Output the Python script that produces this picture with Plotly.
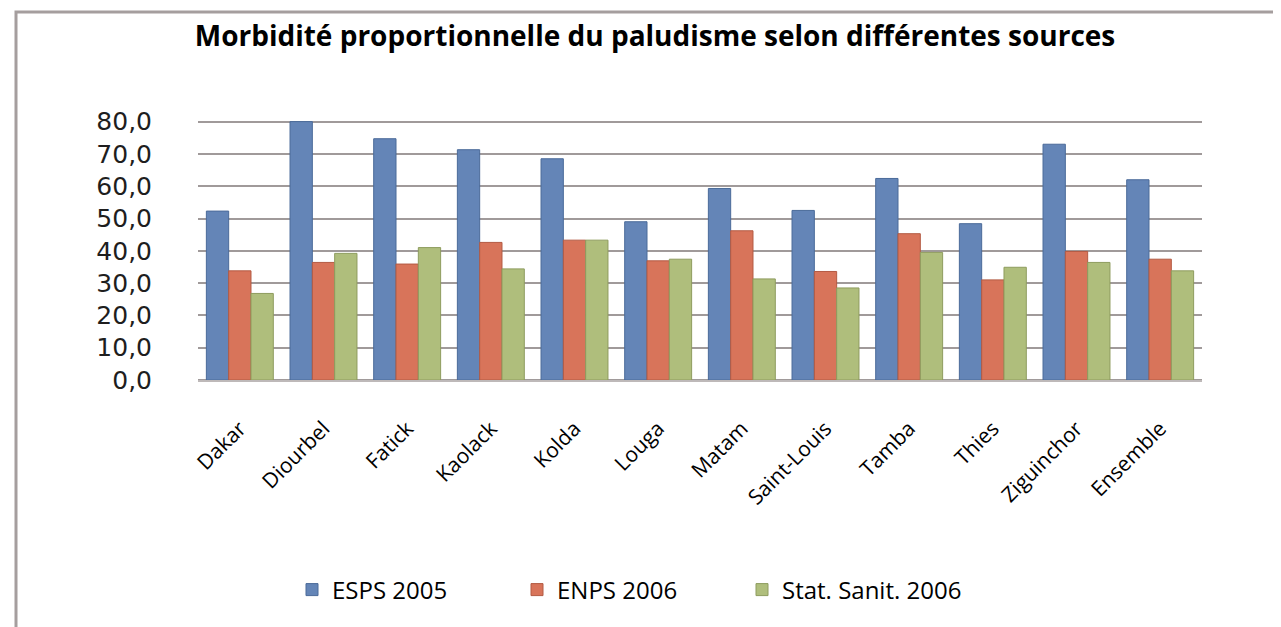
import plotly.graph_objects as go

# Data
regions = ['Dakar', 'Diourbel', 'Fatick', 'Kaolack', 'Kolda', 'Louga', 'Matam',
           'Saint-Louis', 'Tamba', 'Thies', 'Ziguinchor', 'Ensemble']
esps_2005 = [52.3, 80.0, 74.7, 71.3, 68.5, 49.0, 59.3, 52.5, 62.4, 48.4, 73.0, 62.0]
enps_2006 = [33.8, 36.4, 35.9, 42.6, 43.3, 36.9, 46.2, 33.6, 45.3, 31.0, 39.8, 37.4]
stat_sanit_2006 = [26.8, 39.2, 41.0, 34.4, 43.3, 37.4, 31.3, 28.5, 39.5, 34.9, 36.4, 33.8]

y_ticks = [0, 10, 20, 30, 40, 50, 60, 70, 80]
y_tick_text = ['0,0', '10,0', '20,0', '30,0', '40,0', '50,0', '60,0', '70,0', '80,0']

series = [
    ('ESPS 2005', esps_2005, '#6485B7', '#4A6A99'),
    ('ENPS 2006', enps_2006, '#D8745A', '#B35A43'),
    ('Stat. Sanit. 2006', stat_sanit_2006, '#AFBE7C', '#8E9C5E'),
]

W, H = 1281, 627
OFF = 8  # page body margin offsets the figure
ML, MR, MT, MB = 198 - OFF, 79 + OFF, 120 - OFF, 247 + OFF

fig = go.Figure()
for name, vals, color, edge in series:
    fig.add_trace(go.Bar(
        x=regions, y=vals, name=name,
        marker=dict(color=color, line=dict(color=edge, width=1)),
    ))

grid_col = 'rgb(160, 154, 154)'

fig.update_xaxes(
    tickangle=-45,
    tickfont=dict(family='Open Sans, sans-serif', size=21, color='black'),
    ticklabelstandoff=26,
    showgrid=False,
    showline=True, linecolor='rgb(190, 185, 185)', linewidth=2,
)
fig.update_yaxes(
    range=[0, 80.5],
    tickvals=y_ticks, ticktext=y_tick_text,
    tickfont=dict(family='DejaVu Sans, sans-serif', size=25, color='rgb(30,30,30)'),
    ticklabelstandoff=45,
    showgrid=True, gridcolor=grid_col, gridwidth=2,
    zeroline=True, zerolinecolor=grid_col, zerolinewidth=2,
    showline=False,
)

# frame around the chart area (left and top edges visible)
px_w = W - ML - MR
px_h = H - MT - MB
fig.add_shape(
    type='rect', xref='paper', yref='paper',
    x0=(16 - OFF - ML) / px_w, x1=(W + 20 - ML) / px_w,
    y0=(H - MB - (H + 20)) / px_h, y1=(H - MB - (12 - OFF)) / px_h,
    line=dict(color='rgb(165, 158, 158)', width=3),
    fillcolor='rgba(0,0,0,0)', layer='below',
)

fig.update_layout(
    width=W, height=H,
    title=dict(
        text='<b>Morbidité proportionnelle du paludisme selon différentes sources</b>',
        x=(655 - OFF) / W, xanchor='center', y=1 - (36 - OFF) / H, yanchor='middle',
        font=dict(family='Open Sans, sans-serif', size=28, color='black'),
    ),
    barmode='group', bargap=0.2, bargroupgap=0,
    plot_bgcolor='white', paper_bgcolor='white',
    showlegend=True,
    legend=dict(
        orientation='h', x=(292 - OFF - ML) / px_w, xanchor='left',
        y=-(590 - OFF - (H - MB)) / px_h, yanchor='middle',
        font=dict(family='Open Sans, sans-serif', size=24, color='black'),
        entrywidth=180, entrywidthmode='pixels',
        bgcolor='rgba(0,0,0,0)',
    ),
    margin=dict(l=ML, r=MR, t=MT, b=MB),
)

fig.write_html('out.html')
